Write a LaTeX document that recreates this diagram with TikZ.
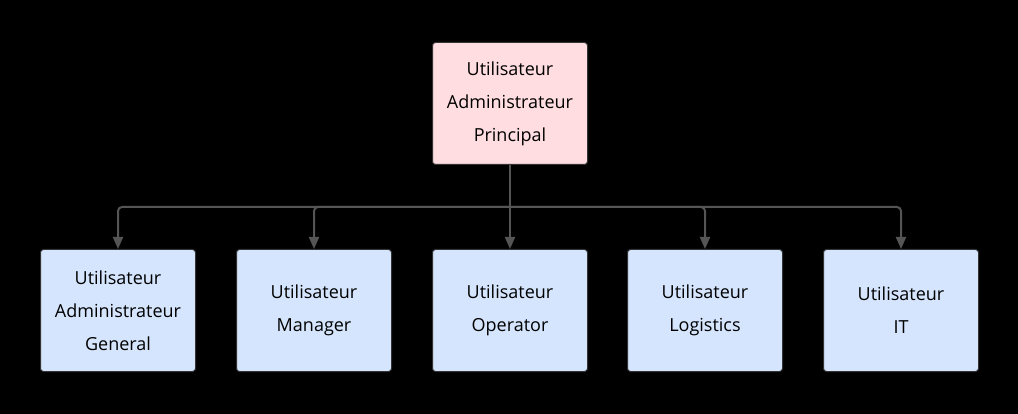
\documentclass[tikz,border=0pt]{standalone}
\usepackage{fontspec}
\setmainfont{Open Sans}
\usetikzlibrary{arrows.meta}
\definecolor{pinkf}{HTML}{FFDDE0}
\definecolor{bluef}{HTML}{D4E5FD}
\definecolor{edge}{HTML}{555555}
\begin{document}
\begin{tikzpicture}[x=1pt,y=-1pt,
 box/.style={draw=black!80,line width=1pt,rounded corners=3pt,minimum width=155pt,minimum height=122pt,align=center,font=\fontsize{18}{33}\selectfont,anchor=north west,inner sep=0pt},
 conn/.style={draw=edge,line width=2pt},
 arr/.style={conn,-{Triangle[length=12pt,width=10pt]}}]
\fill[black] (0,0) rectangle (1018,414);
\useasboundingbox (0,0) rectangle (1018,414);
\node[box,fill=pinkf] (top) at (432,42) {Utilisateur\\Administrateur\\Principal};
\node[box,fill=bluef] (b1) at (40,249) {Utilisateur\\Administrateur\\General};
\node[box,fill=bluef] (b2) at (236,249) {Utilisateur\\Manager};
\node[box,fill=bluef] (b3) at (432,249) {Utilisateur\\Operator};
\node[box,fill=bluef] (b4) at (627,249) {Utilisateur\\Logistics};
\node[box,fill=bluef] (b5) at (823,249) {Utilisateur\\IT};
\coordinate (j) at (510,207);
\draw[conn] (top.south) -- (j);
\foreach \b in {b1,b2,b3,b4,b5}{
 \draw[arr,rounded corners=4pt] (j) -| (\b.north);
}
\end{tikzpicture}
\end{document}
